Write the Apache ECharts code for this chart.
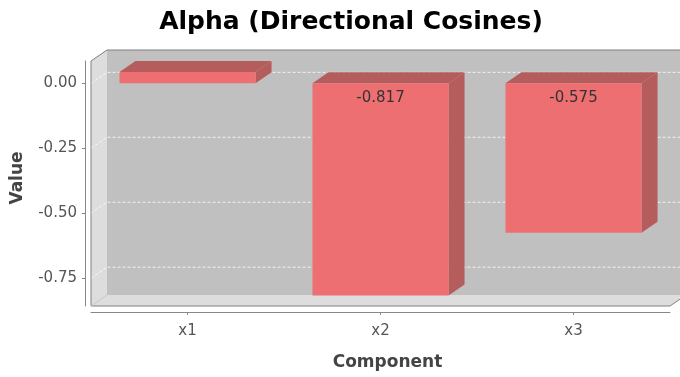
<!DOCTYPE html>
<html>
<head>
<meta charset="utf-8">
<style>
  html, body { margin: 0; padding: 0; background: #ffffff; }
  #chart { width: 680px; height: 377px; }
</style>
<script src="https://cdn.jsdelivr.net/npm/echarts@6/dist/echarts.min.js"></script>
</head>
<body>
<div id="chart"></div>
<script>
// Direction cosines of the alpha vector
const categories = ['x1', 'x2', 'x3'];
const values = [0.044, -0.817, -0.575];
const tickValues = [-0.75, -0.5, -0.25, 0];
const labelTexts = ['', '-0.817', '-0.575'];

// 3D depth of the plot (horizontal, vertical)
const DX = 16, DY = 11;
const FONT = '"DejaVu Sans", sans-serif';

const chart = echarts.init(document.getElementById('chart'), null, { renderer: 'canvas' });

// Back wall, left wall, floor, outline and gridlines on the walls
function renderWalls(params, api) {
  const cs = params.coordSys;
  const x = cs.x, y = cs.y, w = cs.width, h = cs.height;
  const children = [];
  children.push({
    type: 'rect',
    shape: { x: x + DX, y: y - DY, width: w, height: h },
    style: { fill: '#c0c0c0' }
  });
  children.push({
    type: 'polygon',
    shape: { points: [[x, y], [x + DX, y - DY], [x + DX, y + h - DY], [x, y + h]] },
    style: { fill: '#dddddd' }
  });
  children.push({
    type: 'polygon',
    shape: { points: [[x, y + h], [x + DX, y + h - DY], [x + w + DX, y + h - DY], [x + w, y + h]] },
    style: { fill: '#dddddd' }
  });
  tickValues.forEach(function (t) {
    const ty = api.coord([0, t])[1];
    children.push({
      type: 'polyline',
      shape: { points: [[x, ty], [x + DX, ty - DY], [x + w + DX, ty - DY]] },
      style: { stroke: 'rgba(255,255,255,0.8)', lineWidth: 1, lineDash: [3, 2], fill: null }
    });
  });
  children.push({
    type: 'polygon',
    shape: { points: [[x, y + h], [x, y], [x + DX, y - DY], [x + w + DX, y - DY], [x + w + DX, y + h - DY], [x + w, y + h]] },
    style: { fill: null, stroke: '#808080', lineWidth: 1 }
  });
  children.push({
    type: 'line',
    shape: { x1: x, y1: y + h, x2: x + DX, y2: y + h - DY },
    style: { stroke: '#c8c8c8', lineWidth: 1 }
  });
  return { type: 'group', children: children };
}

// 3D bars: front face, top face and right side face
function renderBar(params, api) {
  const idx = api.value(0);
  const v = api.value(1);
  const band = api.size([1, 0])[0];
  const bw = band * 0.705;
  const pV = api.coord([idx, v]);
  const p0 = api.coord([idx, 0]);
  const xl = pV[0] - bw / 2, xr = pV[0] + bw / 2;
  const yTop = Math.min(pV[1], p0[1]);
  const yBot = Math.max(pV[1], p0[1]);
  const children = [
    {
      type: 'polygon',
      shape: { points: [[xl, yTop], [xl + DX, yTop - DY], [xr + DX, yTop - DY], [xr, yTop]] },
      style: { fill: '#b55c5c' }
    },
    {
      type: 'polygon',
      shape: { points: [[xr, yTop], [xr + DX, yTop - DY], [xr + DX, yBot - DY], [xr, yBot]] },
      style: { fill: '#b55c5c' }
    },
    {
      type: 'rect',
      shape: { x: xl, y: yTop, width: xr - xl, height: yBot - yTop },
      style: { fill: '#ee6f71' }
    }
  ];
  const txt = labelTexts[params.dataIndex];
  if (txt) {
    children.push({
      type: 'text',
      style: {
        text: txt, x: pV[0], y: yTop + 15, align: 'center', verticalAlign: 'middle',
        fill: '#333333', font: '15px ' + FONT
      }
    });
  }
  return { type: 'group', children: children };
}

const option = {
  backgroundColor: '#ffffff',
  animation: false,
  grid: { left: 91, right: 10, top: 61, bottom: 71 },
  graphic: [
    {
      type: 'text', x: 351, y: 22,
      style: {
        text: 'Alpha (Directional Cosines)', align: 'center', verticalAlign: 'middle',
        fill: '#000000', font: 'bold 25px ' + FONT
      }
    },
    {
      type: 'text', x: 18, y: 178, rotation: Math.PI / 2,
      style: {
        text: 'Value', align: 'center', verticalAlign: 'middle',
        fill: '#444444', font: 'bold 17px ' + FONT
      }
    },
    {
      type: 'text', x: 387.5, y: 363,
      style: {
        text: 'Component', align: 'center', verticalAlign: 'middle',
        fill: '#444444', font: 'bold 17px ' + FONT
      }
    }
  ],
  xAxis: {
    type: 'category',
    data: categories,
    boundaryGap: true,
    offset: 6,
    axisLine: { show: true, onZero: false, lineStyle: { color: '#888888', width: 1 } },
    axisTick: { show: true, alignWithLabel: true, length: 3, lineStyle: { color: '#888888' } },
    axisLabel: { color: '#555555', fontSize: 15, fontFamily: FONT, margin: 12 },
    splitLine: { show: false }
  },
  yAxis: {
    type: 'value',
    min: -0.857,
    max: 0.086,
    offset: 6,
    axisLine: { show: true, lineStyle: { color: '#888888', width: 1 } },
    axisTick: { show: true, length: 3, customValues: tickValues, lineStyle: { color: '#888888' } },
    axisLabel: {
      color: '#555555', fontSize: 15, fontFamily: FONT, margin: 8,
      customValues: tickValues,
      formatter: function (v) { return v.toFixed(2); }
    },
    splitLine: { show: false }
  },
  series: [
    {
      type: 'custom',
      clip: false,
      silent: true,
      z: 1,
      renderItem: renderWalls,
      data: [[0, 0]]
    },
    {
      type: 'custom',
      clip: false,
      z: 2,
      renderItem: renderBar,
      encode: { x: 0, y: 1 },
      data: values.map(function (v, i) { return [i, v]; })
    }
  ]
};

chart.setOption(option);
</script>
</body>
</html>
